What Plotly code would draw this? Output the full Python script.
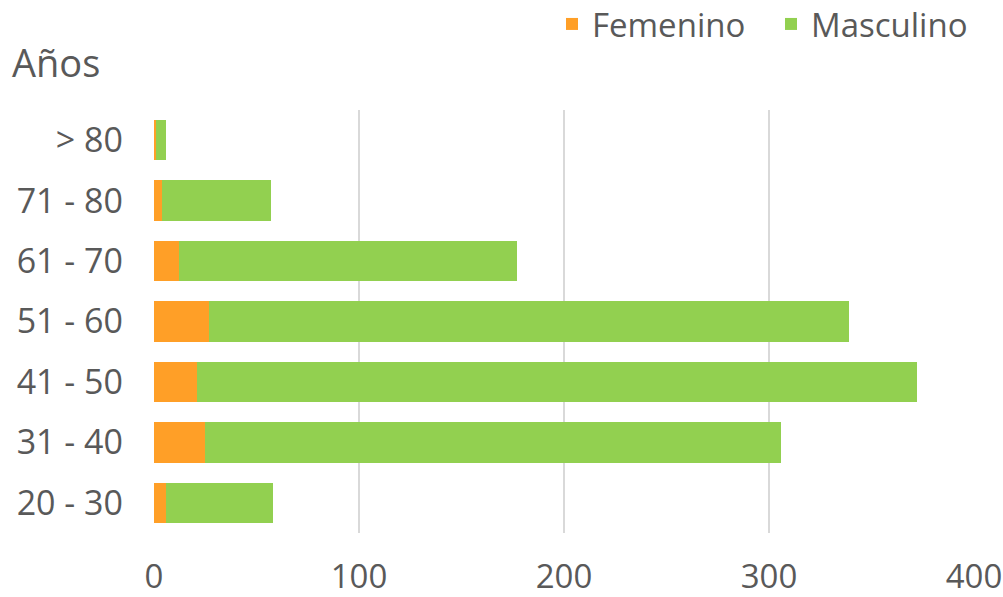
import plotly.graph_objects as go

categories = ["20 - 30", "31 - 40", "41 - 50", "51 - 60", "61 - 70", "71 - 80", "> 80"]
femenino = [6, 25, 21, 27, 12, 4, 1]
masculino = [52, 281, 351, 312, 165, 53, 5]
x_ticks = [0, 100, 200, 300, 400]

FONT = "Open Sans"
TXT = "#595959"

fig = go.Figure()
fig.add_trace(go.Bar(y=categories, x=femenino, name="Femenino", orientation="h",
                     marker=dict(color="#FF9F27", line=dict(width=0))))
fig.add_trace(go.Bar(y=categories, x=masculino, name="Masculino", orientation="h",
                     marker=dict(color="#92D050", line=dict(width=0))))

L, R, T, B = 154, 29, 110, 64
pw = 1003 - L - R
ph = 597 - T - B
fig.update_layout(
    barmode="stack",
    bargap=0.33,
    width=1003, height=597,
    margin=dict(l=L, r=R, t=T, b=B, autoexpand=False),
    plot_bgcolor="white", paper_bgcolor="white",
    font=dict(family=FONT, size=34, color=TXT),
    legend=dict(orientation="h", x=(552 - L) / pw, xanchor="left",
                y=(597 - B + 4) / ph, yanchor="top",
                font=dict(size=33, color=TXT),
                entrywidth=174, entrywidthmode="pixels",
                traceorder="normal", bgcolor="rgba(0,0,0,0)"),
    xaxis=dict(range=[0, 400], tickvals=x_ticks, showgrid=True, gridcolor="#D9D9D9",
               gridwidth=2, zeroline=False, showline=False, ticks="",
               ticklabeloverflow="allow",
               ticklabelstandoff=21, tickfont=dict(size=33, color=TXT)),
    yaxis=dict(categoryorder="array", categoryarray=categories, showgrid=False,
               zeroline=False, showline=False, ticks="", ticklabelstandoff=30,
               tickfont=dict(size=34, color=TXT)),
)
fig.add_annotation(text="Años", xref="paper", yref="paper",
                   x=(10 - L) / pw, y=(597 - B - 62) / ph,
                   xanchor="left", yanchor="middle", showarrow=False,
                   font=dict(size=38, color=TXT))

fig.write_html("out.html", config={"displayModeBar": False},
               post_script="document.body.style.margin='0';document.body.style.overflow='hidden';")
